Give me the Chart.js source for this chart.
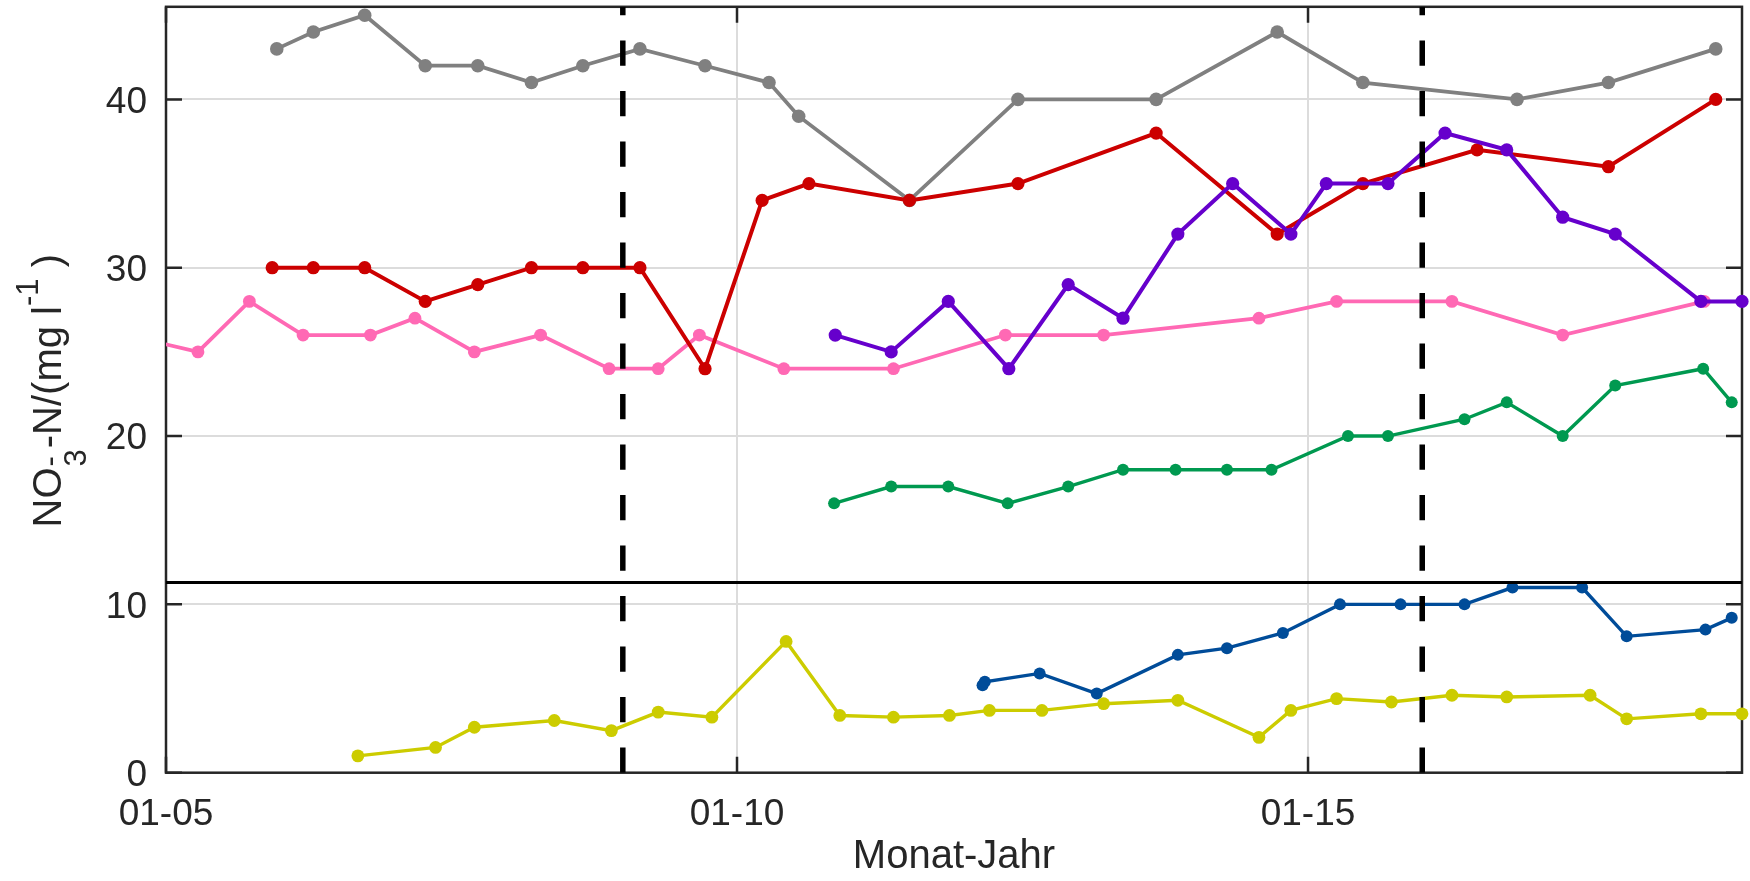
<!DOCTYPE html>
<html lang="de">
  <head>
    <meta charset="UTF-8" />
    <title>NO3-N Zeitreihen</title>
    <script src="https://cdn.jsdelivr.net/npm/chart.js"></script>
    <style>
      body { margin: 0; background: #fff; }
      #wrap { width: 1750px; height: 881px; position: relative; }
    </style>
  </head>
  <body>
    <div id="wrap"><canvas id="no3Chart"></canvas></div>

    <script>
      // axis ticks (x in decimal years)
      const xTickYears = [2005, 2010, 2015];
      const xTickLabels = ["01-05", "01-10", "01-15"];
      const yTickValues = [0, 10, 20, 30, 40];
      // vertical dashed markers and the horizontal break line
      const eventYears = [2009.0, 2016.0];
      const breakLevel = 11.3;

      // sampling dates (decimal years) and NO3-N values per series
      const grayYears = [2005.97, 2006.29, 2006.74, 2007.27, 2007.73, 2008.2, 2008.65, 2009.15, 2009.72, 2010.28, 2010.54, 2011.51, 2012.46, 2013.67, 2014.73, 2015.48, 2016.83, 2017.63, 2018.57];
      const grayValues = [43, 44, 45, 42, 42, 41, 42, 43, 42, 41, 39, 34, 40, 40, 44, 41, 40, 41, 43];

      const redYears = [2005.93, 2006.29, 2006.74, 2007.27, 2007.73, 2008.2, 2008.65, 2009.15, 2009.72, 2010.22, 2010.63, 2011.51, 2012.46, 2013.67, 2014.73, 2015.48, 2016.48, 2017.63, 2018.57];
      const redValues = [30, 30, 30, 28, 29, 30, 30, 30, 24, 34, 35, 34, 35, 38, 32, 35, 37, 36, 40];

      const pinkYears = [2004.65, 2005.28, 2005.73, 2006.2, 2006.79, 2007.18, 2007.7, 2008.28, 2008.88, 2009.31, 2009.67, 2010.41, 2011.37, 2012.35, 2013.21, 2014.57, 2015.25, 2016.26, 2017.23, 2018.47];
      const pinkValues = [26, 25, 28, 26, 26, 27, 25, 26, 24, 24, 26, 24, 24, 26, 26, 27, 28, 28, 26, 28];

      const purpleYears = [2010.86, 2011.35, 2011.85, 2012.38, 2012.9, 2013.38, 2013.86, 2014.34, 2014.85, 2015.16, 2015.7, 2016.2, 2016.74, 2017.23, 2017.69, 2018.44, 2018.8];
      const purpleValues = [26, 25, 28, 24, 29, 27, 32, 35, 32, 35, 35, 38, 37, 33, 32, 28, 28];

      const greenYears = [2010.85, 2011.35, 2011.85, 2012.37, 2012.9, 2013.38, 2013.84, 2014.29, 2014.68, 2015.35, 2015.7, 2016.37, 2016.74, 2017.23, 2017.69, 2018.46, 2018.71];
      const greenValues = [16, 17, 17, 16, 17, 18, 18, 18, 18, 20, 20, 21, 22, 20, 23, 24, 22];

      const blueYears = [2012.15, 2012.17, 2012.65, 2013.15, 2013.86, 2014.29, 2014.78, 2015.28, 2015.81, 2016.37, 2016.79, 2017.4, 2017.79, 2018.48, 2018.71];
      const blueValues = [5.2, 5.4, 5.9, 4.7, 7.0, 7.4, 8.3, 10, 10, 10, 11, 11, 8.1, 8.5, 9.2];

      const yellowYears = [2006.68, 2007.36, 2007.7, 2008.4, 2008.9, 2009.31, 2009.78, 2010.43, 2010.9, 2011.37, 2011.86, 2012.21, 2012.67, 2013.21, 2013.86, 2014.57, 2014.85, 2015.25, 2015.73, 2016.26, 2016.74, 2017.47, 2017.79, 2018.44, 2018.8];
      const yellowValues = [1.0, 1.5, 2.7, 3.1, 2.5, 3.6, 3.3, 7.8, 3.4, 3.3, 3.4, 3.7, 3.7, 4.1, 4.3, 2.1, 3.7, 4.4, 4.2, 4.6, 4.5, 4.6, 3.2, 3.5, 3.5];

      const FONT = '"Liberation Sans", Arial, Helvetica, sans-serif';
      const AXIS_COLOR = "#262626";

      function points(xs, ys) {
        return xs.map((x, i) => ({ x: x, y: ys[i] }));
      }

      function series(xs, ys, color, lw, r, clip) {
        return {
          data: points(xs, ys),
          borderColor: color,
          backgroundColor: color,
          borderWidth: lw,
          pointRadius: r,
          pointBorderWidth: 0,
          pointHoverRadius: r,
          tension: 0,
          clip: clip === undefined ? 10 : clip,
        };
      }

      // box, inward ticks, dashed markers, break line and y label
      const framePlugin = {
        id: "frame",
        beforeDatasetsDraw(chart) {
          const { ctx, chartArea: a, scales } = chart;
          const x = scales.x, y = scales.y;
          ctx.save();
          ctx.strokeStyle = AXIS_COLOR;
          ctx.lineWidth = 2.5;
          ctx.strokeRect(a.left, a.top, a.right - a.left, a.bottom - a.top);
          ctx.beginPath();
          yTickValues.forEach((v) => {
            const py = y.getPixelForValue(v);
            ctx.moveTo(a.left, py);
            ctx.lineTo(a.left + 16, py);
            ctx.moveTo(a.right, py);
            ctx.lineTo(a.right - 16, py);
          });
          xTickYears.forEach((v) => {
            const px = x.getPixelForValue(v);
            ctx.moveTo(px, a.bottom);
            ctx.lineTo(px, a.bottom - 16);
            ctx.moveTo(px, a.top);
            ctx.lineTo(px, a.top + 16);
          });
          ctx.stroke();
          ctx.restore();
        },
        afterDatasetsDraw(chart) {
          const { ctx, chartArea: a, scales } = chart;
          const x = scales.x, y = scales.y;
          ctx.save();
          ctx.beginPath();
          ctx.rect(a.left, a.top, a.right - a.left, a.bottom - a.top);
          ctx.clip();
          ctx.strokeStyle = "#000";
          ctx.lineWidth = 5.5;
          ctx.setLineDash([25.2, 25.3]);
          eventYears.forEach((v) => {
            const px = x.getPixelForValue(v);
            ctx.beginPath();
            ctx.moveTo(px, a.bottom);
            ctx.lineTo(px, a.top);
            ctx.stroke();
          });
          ctx.restore();

          ctx.save();
          ctx.strokeStyle = "#000";
          ctx.lineWidth = 3;
          const py = y.getPixelForValue(breakLevel);
          ctx.beginPath();
          ctx.moveTo(a.left, py);
          ctx.lineTo(a.right, py);
          ctx.stroke();
          ctx.restore();
        },
        afterDraw(chart) {
          const { ctx, chartArea: a } = chart;
          const big = "40px " + FONT;
          const small = "31px " + FONT;
          ctx.save();
          ctx.fillStyle = AXIS_COLOR;
          ctx.textBaseline = "alphabetic";
          ctx.textAlign = "left";
          ctx.translate(61, (a.top + a.bottom) / 2 + 1);
          ctx.rotate(-Math.PI / 2);
          const w = (t, f) => { ctx.font = f; return ctx.measureText(t).width; };
          const w1 = w("NO", big);
          const w2 = Math.max(w("3", small), w("-", small)) + 2;
          const w3 = w("-N/(mg l", big);
          const w4 = w("-1", small);
          const w5 = w(" )", big);
          let px = -(w1 + w2 + w3 + w4 + w5) / 2;
          ctx.font = big;
          ctx.fillText("NO", px, 0);
          px += w1;
          ctx.font = small;
          ctx.fillText("3", px + 1, 25);
          ctx.fillText("-", px + 1, -1);
          px += w2;
          ctx.font = big;
          ctx.fillText("-N/(mg l", px, 0);
          px += w3;
          ctx.font = small;
          ctx.fillText("-1", px, -23);
          px += w4;
          ctx.font = big;
          ctx.fillText(" )", px, 0);
          ctx.restore();
        },
      };

      Chart.defaults.font.family = FONT;
      Chart.defaults.color = AXIS_COLOR;

      const chart = new Chart(document.getElementById("no3Chart"), {
        type: "line",
        data: {
          datasets: [
            series(purpleYears, purpleValues, "#6600cc", 4, 6.6),
            series(redYears, redValues, "#cc0000", 4, 6.6),
            series(pinkYears, pinkValues, "#ff69b4", 3.8, 6.4, { left: 0, top: 10, right: 10, bottom: 10 }),
            series(grayYears, grayValues, "#808080", 3.8, 6.8),
            series(greenYears, greenValues, "#009950", 3.4, 6),
            series(blueYears, blueValues, "#004c99", 3.4, 6),
            series(yellowYears, yellowValues, "#cccc00", 3.4, 6.4),
          ],
        },
        options: {
          responsive: true,
          maintainAspectRatio: false,
          animation: false,
          events: [],
          layout: { padding: { top: 6.7, right: 8, left: 0, bottom: 0 } },
          plugins: { legend: { display: false }, tooltip: { enabled: false } },
          scales: {
            x: {
              type: "linear",
              min: 2005,
              max: 2018.8,
              afterBuildTicks: (s) => { s.ticks = xTickYears.map((v) => ({ value: v })); },
              afterFit: (s) => { s.height = 108.3; s.paddingLeft = 0; s.paddingRight = 0; },
              grid: { color: "#dcdcdc", lineWidth: 2, drawTicks: false },
              border: { display: false },
              ticks: {
                font: { size: 37 },
                color: AXIS_COLOR,
                padding: 20,
                maxRotation: 0,
                autoSkip: false,
                callback: (v) => xTickLabels[xTickYears.indexOf(v)],
              },
              title: {
                display: true,
                text: "Monat-Jahr",
                font: { size: 40 },
                color: AXIS_COLOR,
                padding: { top: 0, bottom: 0 },
              },
            },
            y: {
              type: "linear",
              min: 0,
              max: 45.5,
              afterBuildTicks: (s) => { s.ticks = yTickValues.map((v) => ({ value: v })); },
              afterFit: (s) => { s.width = 166; s.paddingTop = 0; s.paddingBottom = 0; },
              grid: { color: "#dcdcdc", lineWidth: 2, drawTicks: false },
              border: { display: false },
              ticks: {
                font: { size: 37 },
                color: AXIS_COLOR,
                padding: 19,
                labelOffset: 3,
              },
            },
          },
        },
        plugins: [framePlugin],
      });
    </script>
  </body>
</html>
